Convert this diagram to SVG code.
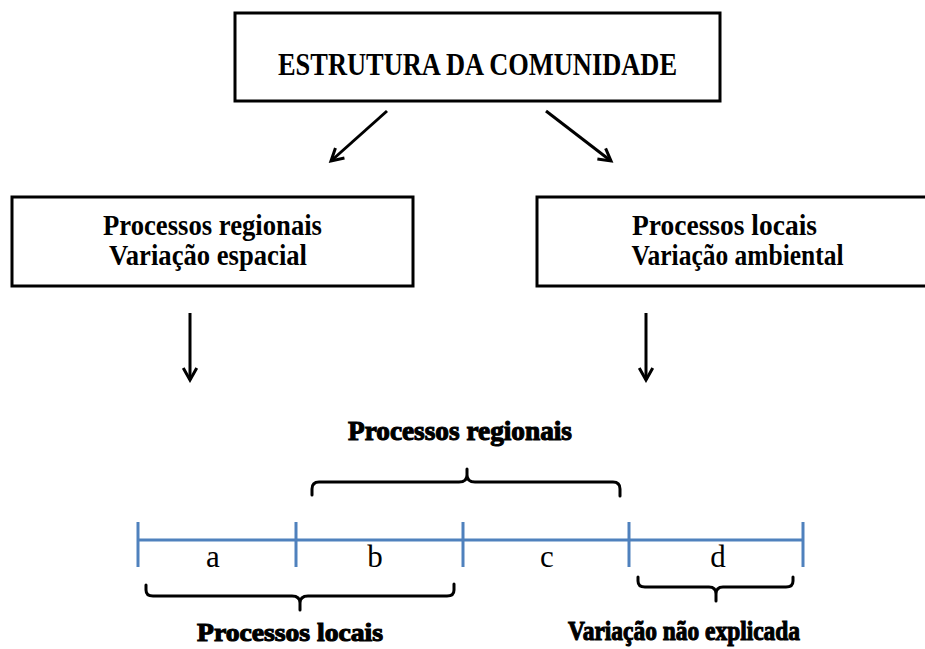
<svg xmlns="http://www.w3.org/2000/svg" width="925" height="649" viewBox="0 0 925 649">
<defs>
<marker id="arr" viewBox="0 0 12 12" refX="10" refY="6" markerWidth="6" markerHeight="6" markerUnits="strokeWidth" orient="auto">
<path d="M2,1.5 L10,6 L2,10.5" fill="none" stroke="#000" stroke-width="2" stroke-linejoin="miter"/>
</marker>
<style>
.box{fill:#fff;stroke:#000;stroke-width:3}
.t{font-family:"Liberation Serif","Times New Roman",serif;font-weight:bold;fill:#000;text-anchor:middle}
.h{font-family:"Liberation Serif","Times New Roman",serif;font-weight:bold;fill:#000;stroke:#000;stroke-width:1.1;text-anchor:middle}
.l{font-family:"Liberation Serif","Times New Roman",serif;font-size:31px;fill:#000;text-anchor:middle}
.arrow{stroke:#000;stroke-width:3;fill:none;marker-end:url(#arr)}
.axis{stroke:#4F81BD;stroke-width:3;fill:none}
.brace{stroke:#000;stroke-width:3;fill:none;stroke-linecap:round;stroke-linejoin:round}
</style>
</defs>
<rect width="925" height="649" fill="#fff"/>

<g id="estrutura">
<rect class="box" x="235" y="13" width="485" height="88"/>
<text class="t" x="477.5" y="75" font-size="32" textLength="399" lengthAdjust="spacingAndGlyphs">ESTRUTURA DA COMUNIDADE</text>
</g>

<g id="regionais">
<rect class="box" x="12" y="197" width="401" height="89"/>
<text class="t" x="212.5" y="235" font-size="30" textLength="219" lengthAdjust="spacingAndGlyphs">Processos regionais</text>
<text class="t" x="208" y="265" font-size="30" textLength="198" lengthAdjust="spacingAndGlyphs">Variação espacial</text>
</g>

<g id="locais">
<rect class="box" x="537" y="197" width="400" height="89"/>
<text class="t" x="724.5" y="235" font-size="30" textLength="185" lengthAdjust="spacingAndGlyphs">Processos locais</text>
<text class="t" x="737.5" y="265" font-size="30" textLength="212" lengthAdjust="spacingAndGlyphs">Variação ambiental</text>
</g>

<g id="connectors">
<line class="arrow" x1="387" y1="111" x2="331" y2="161"/>
<line class="arrow" x1="546" y1="111" x2="611" y2="161"/>
<line class="arrow" x1="190" y1="313" x2="190" y2="380"/>
<line class="arrow" x1="646" y1="313" x2="646" y2="380"/>
</g>

<g id="eixo">
<line class="axis" x1="138" y1="540" x2="803" y2="540"/>
<line class="axis" x1="138" y1="522" x2="138" y2="567"/>
<line class="axis" x1="296" y1="522" x2="296" y2="567"/>
<line class="axis" x1="463" y1="522" x2="463" y2="567"/>
<line class="axis" x1="629" y1="522" x2="629" y2="567"/>
<line class="axis" x1="803" y1="522" x2="803" y2="567"/>
<text class="l" x="213" y="567">a</text>
<text class="l" x="375" y="567">b</text>
<text class="l" x="547" y="567">c</text>
<text class="l" x="718" y="567">d</text>
</g>

<g id="chave-regionais">
<path class="brace" d="M312,495 L312,489 Q312,482 319,482 L459,482 Q467,482 467,475 L467,469 M467,475 Q467,482 475,482 L613,482 Q620,482 620,489 L620,496"/>
<text class="h" x="460" y="440" font-size="27" textLength="224" lengthAdjust="spacingAndGlyphs">Processos regionais</text>
</g>

<g id="chave-locais">
<path class="brace" d="M146,585 L146,590 Q146,596 153,596 L292,596 Q300,596 300,603 L300,610 M300,603 Q300,596 308,596 L447,596 Q454,596 454,590 L454,584"/>
<text class="h" x="290" y="641" font-size="25" textLength="186" lengthAdjust="spacingAndGlyphs">Processos locais</text>
</g>

<g id="chave-nao-explicada">
<path class="brace" d="M638,577 L638,581 Q638,587 645,587 L709,587 Q716,587 716,594 L716,601 M716,594 Q716,587 723,587 L786,587 Q793,587 793,581 L793,577"/>
<text class="h" x="684" y="640" font-size="27" textLength="232" lengthAdjust="spacingAndGlyphs">Variação não explicada</text>
</g>
</svg>
